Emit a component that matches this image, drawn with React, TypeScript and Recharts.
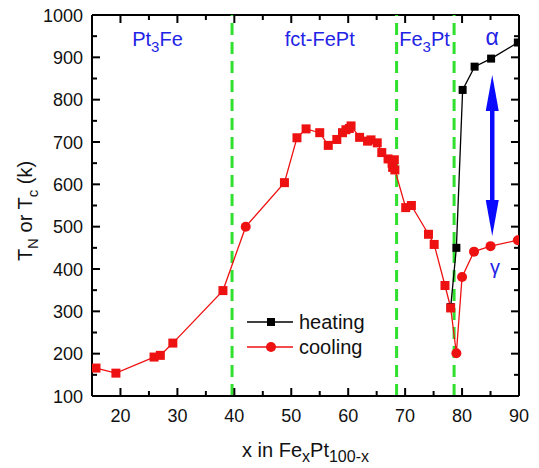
import React from "react";
import {
  ComposedChart,
  Line,
  XAxis,
  YAxis,
  ReferenceLine,
  ReferenceDot,
  Legend,
} from "recharts";

// heating curve (black squares)
const heatingX = [78.0, 79.0, 80.1, 82.2, 85.1, 89.8];
const heatingT = [310, 450, 823, 878, 897, 935];

// cooling curve (red), in drawing order
const coolingX = [
  15.7, 19.2, 25.9, 27.0, 29.2, 38.0, 42.0, 48.8, 51.0, 52.6, 55.0, 56.5,
  58.0, 59.0, 59.6, 60.2, 60.5, 62.0, 63.4, 64.0, 65.1, 65.9, 67.0, 67.7,
  68.1, 67.8, 68.2, 70.1, 71.1, 74.1, 75.1, 77.0, 78.0, 79.0, 80.0, 82.1,
  85.0, 89.8,
];
const coolingT = [
  166, 154, 192, 196, 225, 349, 500, 604, 710, 731, 722, 692, 706, 722, 729,
  732, 738, 711, 702, 705, 698, 675, 660, 650, 658, 640, 634, 545, 550, 482,
  458, 361, 308, 201, 381, 441, 454, 468,
];
// cooling points shown with round markers
const coolingCircleX = [42.0, 79.0, 80.0, 82.1, 85.0, 89.8];

const phaseBoundaries = [39.6, 68.5, 78.6];

const xTicks = [20, 25, 30, 35, 40, 45, 50, 55, 60, 65, 70, 75, 80, 85, 90];
const yTicks = [
  100, 150, 200, 250, 300, 350, 400, 450, 500, 550, 600, 650, 700, 750, 800,
  850, 900, 950, 1000,
];

const heatingData = heatingX.map((x, i) => ({ x, T: heatingT[i] }));
const coolingData = coolingX.map((x, i) => ({ x, T: coolingT[i] }));

const FONT = "'Liberation Sans', Arial, sans-serif";
const BLUE = "#2323e6";
const RED = "#ee1111";
const GREEN = "#2fe02f";

// chart is pulled up over the body margin so the top tick label has room
const W = 531;
const H = 468;
const M = { top: 15, right: 20, bottom: 0, left: 0 };
const Y_W = 84;
const PLOT_H = 381;
const PLOT_TOP = M.top;
const PLOT_W = W - Y_W - M.right;

const XTick = (props: any) => {
  const { x, y, payload } = props;
  const v = payload.value;
  const major = v % 10 === 0;
  const len = major ? 8 : 5;
  return (
    <g>
      <line x1={x} x2={x} y1={y} y2={y - len} stroke="#000" strokeWidth={2} />
      <line x1={x} x2={x} y1={PLOT_TOP} y2={PLOT_TOP + len} stroke="#000" strokeWidth={2} />
      {major && (
        <text x={x} y={y + 26} textAnchor="middle" fontSize={18} fontFamily={FONT} fill="#111">
          {v}
        </text>
      )}
    </g>
  );
};

const YTick = (props: any) => {
  const { x, y, payload } = props;
  const v = payload.value;
  const major = v % 100 === 0;
  const len = major ? 8 : 5;
  return (
    <g>
      <line x1={x} x2={x + len} y1={y} y2={y} stroke="#000" strokeWidth={2} />
      <line x1={x + PLOT_W} x2={x + PLOT_W - len} y1={y} y2={y} stroke="#000" strokeWidth={2} />
      {major && (
        <text x={x - 9} y={y + 6.5} textAnchor="end" fontSize={18} fontFamily={FONT} fill="#111">
          {v}
        </text>
      )}
    </g>
  );
};

const XTitle = (props: any) => {
  const { viewBox } = props;
  const cx = viewBox.x + viewBox.width / 2;
  const y = viewBox.y + 61;
  return (
    <text x={cx} y={y} textAnchor="middle" fontSize={20} fontFamily={FONT} fill="#111">
      x in Fe
      <tspan dy={5} fontSize={16}>x</tspan>
      <tspan dy={-5}>Pt</tspan>
      <tspan dy={5} fontSize={16}>100-x</tspan>
    </text>
  );
};

const YTitle = (props: any) => {
  const { viewBox } = props;
  const cx = viewBox.x + 23.5;
  const cy = viewBox.y + viewBox.height / 2 + 5.5;
  return (
    <text
      transform={`translate(${cx},${cy}) rotate(-90)`}
      textAnchor="middle"
      fontSize={20}
      fontFamily={FONT}
      fill="#111"
    >
      T<tspan dy={6} fontSize={15}>N</tspan>
      <tspan dy={-6}> or T</tspan>
      <tspan dy={6} fontSize={15}>c</tspan>
      <tspan dy={-6}> (k)</tspan>
    </text>
  );
};

const annotation = (node: React.ReactNode, size = 20) => (props: any) => {
  const { viewBox } = props;
  return (
    <text
      x={viewBox.x + viewBox.width / 2}
      y={viewBox.y + viewBox.height / 2}
      textAnchor="middle"
      fontSize={size}
      fontFamily={FONT}
      fill={BLUE}
    >
      {node}
    </text>
  );
};

const DoubleArrow = (props: any) => {
  const { x1, y1, y2 } = props;
  const top = Math.min(y1, y2);
  const bottom = Math.max(y1, y2);
  const head = 36;
  const half = 6.5;
  return (
    <g>
      <line x1={x1} x2={x1} y1={top + head - 4} y2={bottom - head + 4} stroke="#0a0aff" strokeWidth={4.5} />
      <polygon points={`${x1},${top} ${x1 - half},${top + head} ${x1 + half},${top + head}`} fill="#0a0aff" />
      <polygon points={`${x1},${bottom} ${x1 - half},${bottom - head} ${x1 + half},${bottom - head}`} fill="#0a0aff" />
    </g>
  );
};

const HeatDot = (p: any) => (
  <rect key={`h${p.index}`} x={p.cx - 4} y={p.cy - 4} width={8} height={8} fill="#000" />
);

const CoolDot = (p: any) =>
  coolingCircleX.includes(p.payload.x) ? (
    <circle key={`c${p.index}`} cx={p.cx} cy={p.cy} r={5} fill={RED} />
  ) : (
    <rect key={`c${p.index}`} x={p.cx - 4.5} y={p.cy - 4.5} width={9} height={9} fill={RED} />
  );

const LegendBox = () => (
  <svg width={150} height={52}>
    <line x1={3} x2={49} y1={14} y2={14} stroke="#000" strokeWidth={1.3} />
    <rect x={23} y={10} width={8} height={8} fill="#000" />
    <text x={55} y={21} fontSize={20} fontFamily={FONT} fill="#111">heating</text>
    <line x1={3} x2={49} y1={39} y2={39} stroke={RED} strokeWidth={1.3} />
    <circle cx={27} cy={39} r={5} fill={RED} />
    <text x={55} y={46} fontSize={20} fontFamily={FONT} fill="#111">cooling</text>
  </svg>
);

export default function App() {
  return (
    <div style={{ marginTop: -8 }}>
      <ComposedChart width={W} height={H} margin={M}>
        <XAxis
          type="number"
          dataKey="x"
          domain={[15, 90]}
          ticks={xTicks}
          interval={0}
          allowDataOverflow
          height={H - M.top - PLOT_H}
          tickSize={0}
          tickMargin={0}
          tickLine={false}
          axisLine={{ stroke: "#000", strokeWidth: 2 }}
          tick={XTick}
          label={XTitle}
        />
        <YAxis
          type="number"
          dataKey="T"
          domain={[100, 1000]}
          ticks={yTicks}
          interval={0}
          allowDataOverflow
          width={Y_W}
          tickSize={0}
          tickMargin={0}
          tickLine={false}
          axisLine={{ stroke: "#000", strokeWidth: 2 }}
          tick={YTick}
          label={YTitle}
        />
        <ReferenceLine y={1000} stroke="#000" strokeWidth={2} />
        <ReferenceLine x={90} stroke="#000" strokeWidth={2} />
        {phaseBoundaries.map((b) => (
          <ReferenceLine key={b} x={b} stroke={GREEN} strokeWidth={3} strokeDasharray="12 7" />
        ))}
        <ReferenceLine
          segment={[
            { x: 85.3, y: 858 },
            { x: 85.3, y: 478 },
          ]}
          shape={DoubleArrow}
        />
        <ReferenceDot x={26.5} y={927} r={0} fill="none" stroke="none"
          label={{ content: annotation(<>Pt<tspan dy={6} fontSize={15}>3</tspan><tspan dy={-6}>Fe</tspan></>) }} />
        <ReferenceDot x={55.0} y={927} r={0} fill="none" stroke="none"
          label={{ content: annotation("fct-FePt") }} />
        <ReferenceDot x={73.4} y={927} r={0} fill="none" stroke="none"
          label={{ content: annotation(<>Fe<tspan dy={6} fontSize={15}>3</tspan><tspan dy={-6}>Pt</tspan></>) }} />
        <ReferenceDot x={85.3} y={929} r={0} fill="none" stroke="none"
          label={{ content: annotation("α", 23) }} />
        <ReferenceDot x={85.8} y={389} r={0} fill="none" stroke="none"
          label={{ content: annotation("γ", 20) }} />
        <Line
          data={heatingData}
          dataKey="T"
          name="heating"
          stroke="#000"
          strokeWidth={1.3}
          dot={HeatDot}
          isAnimationActive={false}
        />
        <Line
          data={coolingData}
          dataKey="T"
          name="cooling"
          stroke={RED}
          strokeWidth={1.3}
          dot={CoolDot}
          isAnimationActive={false}
        />
        <Legend
          layout="horizontal"
          verticalAlign="middle"
          align="center"
          content={LegendBox}
          wrapperStyle={{ left: 236, top: 308, width: 150, height: 52 }}
        />
      </ComposedChart>
    </div>
  );
}
